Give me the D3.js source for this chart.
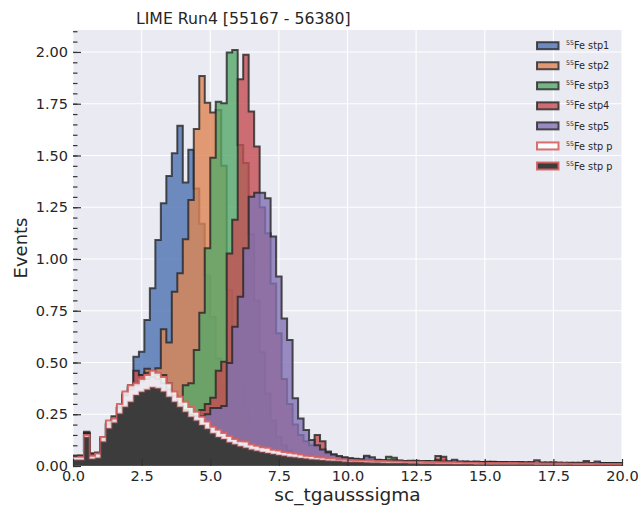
<!DOCTYPE html>
<html><head><meta charset="utf-8">
<script src="https://cdn.jsdelivr.net/npm/d3@7"></script>
<style>body{margin:0;background:#fff}svg{display:block}</style>
</head><body>
<svg id="c" width="644" height="506"></svg>
<script>
// ---------- data ----------
const title = "LIME Run4 [55167 - 56380]";
const xLabel = "sc_tgausssigma";
const yLabel = "Events";
const xTicks = [0, 2.5, 5, 7.5, 10, 12.5, 15, 17.5, 20];
const yTicks = [0, 0.25, 0.5, 0.75, 1.0, 1.25, 1.5, 1.75, 2.0];
const binEdges = d3.range(101).map(i => +(i * 0.2).toFixed(1)); // 0 .. 20, 100 bins
const labels = ["stp1", "stp2", "stp3", "stp4", "stp5", "stp p", "stp p"];

const stp1 = [
 0.05,0.05,0.165,0.06,0.065,0.14,0.21,0.24,0.29,0.35,
 0.39,0.528,0.552,0.705,0.858,1.092,1.269,1.401,1.511,1.643,
 1.369,1.527,1.34,1.17,0.92,0.72,0.52,0.38,0.27,0.2,
 0.15,0.12,0.1,0.085,0.075,0.07,0.062,0.058,0.055,0.05,
 0.046,0.044,0.04,0.038,0.036,0.034,0.032,0.031,0.03,0.029,
 0.028,0.027,0.03,0.045,0.032,0.026,0.025,0.027,0.024,0.023,
 0.024,0.022,0.025,0.021,0.022,0.02,0.024,0.021,0.02,0.022,
 0.019,0.02,0.018,0.021,0.019,0.018,0.02,0.017,0.018,0.016,
 0.018,0.017,0.016,0.018,0.015,0.016,0.017,0.015,0.016,0.014,
 0.015,0.016,0.014,0.015,0.013,0.015,0.014,0.013,0.014,0.012];
const stp2 = [
 0.05,0.048,0.16,0.055,0.06,0.13,0.2,0.22,0.28,0.34,
 0.38,0.40,0.44,0.47,0.44,0.472,0.66,0.596,0.842,0.931,
 1.095,1.285,1.628,1.884,1.755,1.707,1.72,1.45,0.85,0.6,
 0.4,0.28,0.2,0.15,0.12,0.1,0.085,0.075,0.065,0.058,
 0.052,0.048,0.044,0.04,0.038,0.036,0.034,0.032,0.031,0.03,
 0.029,0.028,0.027,0.03,0.026,0.027,0.025,0.024,0.026,0.023,
 0.024,0.023,0.022,0.024,0.021,0.022,0.048,0.028,0.022,0.02,
 0.021,0.02,0.019,0.02,0.018,0.019,0.018,0.017,0.019,0.016,
 0.017,0.018,0.016,0.017,0.015,0.016,0.015,0.017,0.014,0.015,
 0.016,0.014,0.015,0.013,0.015,0.014,0.013,0.014,0.012,0.013];
const stp3 = [
 0.048,0.05,0.16,0.055,0.062,0.135,0.2,0.225,0.28,0.34,
 0.38,0.4,0.42,0.44,0.45,0.44,0.44,0.40,0.33,0.30,
 0.39,0.40,0.56,0.74,1.052,1.489,1.76,1.752,1.997,2.01,
 1.551,1.464,1.12,0.8,0.55,0.35,0.22,0.14,0.1,0.075,
 0.06,0.05,0.045,0.04,0.037,0.034,0.032,0.03,0.029,0.028,
 0.027,0.026,0.025,0.028,0.026,0.024,0.025,0.045,0.04,0.026,
 0.023,0.024,0.022,0.021,0.023,0.02,0.022,0.021,0.02,0.019,
 0.02,0.018,0.019,0.017,0.019,0.018,0.017,0.018,0.016,0.017,
 0.016,0.017,0.015,0.016,0.017,0.015,0.014,0.016,0.015,0.014,
 0.015,0.014,0.016,0.013,0.014,0.013,0.015,0.012,0.013,0.012];
const stp4 = [
 0.045,0.05,0.155,0.06,0.06,0.13,0.2,0.22,0.28,0.34,
 0.38,0.46,0.44,0.45,0.43,0.42,0.38,0.34,0.3,0.25,
 0.2,0.22,0.24,0.27,0.3,0.33,0.46,0.504,1.027,1.19,
 1.868,1.986,1.712,1.543,1.25,1.124,0.882,0.641,0.42,0.3,
 0.2,0.15,0.12,0.1,0.15,0.12,0.07,0.055,0.045,0.04,
 0.036,0.033,0.03,0.029,0.028,0.027,0.026,0.025,0.027,0.024,
 0.023,0.022,0.024,0.021,0.022,0.021,0.03,0.045,0.02,0.021,
 0.019,0.02,0.018,0.019,0.018,0.02,0.017,0.018,0.017,0.016,
 0.017,0.016,0.018,0.015,0.016,0.015,0.016,0.014,0.015,0.016,
 0.014,0.015,0.013,0.024,0.014,0.013,0.014,0.012,0.013,0.012];
const stp5 = [
 0.045,0.045,0.155,0.05,0.06,0.13,0.2,0.22,0.28,0.34,
 0.37,0.39,0.41,0.42,0.43,0.42,0.4,0.37,0.34,0.3,
 0.27,0.25,0.24,0.24,0.25,0.28,0.28,0.29,0.497,0.673,
 0.818,1.052,1.30,1.32,1.32,1.293,1.108,0.915,0.713,0.609,
 0.327,0.23,0.174,0.126,0.1,0.08,0.065,0.055,0.048,0.042,
 0.038,0.035,0.033,0.05,0.042,0.03,0.028,0.027,0.026,0.025,
 0.024,0.025,0.023,0.022,0.023,0.021,0.022,0.02,0.021,0.03,
 0.02,0.019,0.02,0.018,0.019,0.017,0.018,0.017,0.016,0.018,
 0.016,0.017,0.015,0.016,0.028,0.016,0.015,0.014,0.016,0.015,
 0.014,0.015,0.014,0.013,0.014,0.022,0.013,0.014,0.012,0.013];
const stpPWhite = [
 0.045,0.045,0.15,0.05,0.06,0.14,0.22,0.23,0.3,0.36,
 0.39,0.4,0.42,0.44,0.46,0.45,0.43,0.4,0.36,0.335,
 0.31,0.285,0.262,0.238,0.215,0.19,0.175,0.16,0.145,0.13,
 0.12,0.118,0.104,0.098,0.09,0.088,0.078,0.075,0.068,0.064,
 0.06,0.055,0.05,0.048,0.043,0.041,0.037,0.036,0.032,0.031,
 0.029,0.028,0.027,0.026,0.025,0.024,0.024,0.023,0.022,0.022,
 0.021,0.021,0.02,0.02,0.019,0.019,0.018,0.018,0.018,0.017,
 0.017,0.016,0.016,0.016,0.015,0.015,0.015,0.014,0.014,0.014,
 0.014,0.013,0.013,0.013,0.013,0.012,0.012,0.012,0.012,0.012,
 0.011,0.011,0.011,0.011,0.011,0.01,0.01,0.01,0.01,0.01];
const stpPDark = [
 0.03,0.03,0.14,0.035,0.04,0.118,0.182,0.21,0.254,0.286,
 0.31,0.343,0.359,0.37,0.38,0.376,0.36,0.335,0.31,0.286,
 0.262,0.238,0.22,0.198,0.18,0.158,0.14,0.13,0.115,0.105,
 0.095,0.088,0.08,0.074,0.068,0.063,0.058,0.053,0.049,0.045,
 0.042,0.039,0.036,0.033,0.031,0.029,0.027,0.025,0.024,0.022,
 0.021,0.02,0.019,0.018,0.017,0.017,0.016,0.015,0.015,0.014,
 0.014,0.013,0.013,0.012,0.012,0.012,0.011,0.011,0.011,0.01,
 0.01,0.01,0.01,0.009,0.009,0.009,0.009,0.009,0.008,0.008,
 0.008,0.008,0.008,0.008,0.007,0.007,0.007,0.007,0.007,0.007,
 0.007,0.006,0.006,0.006,0.006,0.006,0.006,0.006,0.006,0.006];

// ---------- styles ----------
const series = [
  {vals: stp1, fill: "#4C72B0", fo: 0.8, stroke: "#262626", so: 0.8},
  {vals: stp2, fill: "#DD8452", fo: 0.8, stroke: "#262626", so: 0.8},
  {vals: stp3, fill: "#55A868", fo: 0.8, stroke: "#262626", so: 0.8},
  {vals: stp4, fill: "#C44E52", fo: 0.8, stroke: "#262626", so: 0.8},
  {vals: stp5, fill: "#8172B3", fo: 0.8, stroke: "#262626", so: 0.8},
  {vals: stpPWhite, fill: "#ffffff", fo: 0.85, stroke: "#d65f5f", so: 0.9},
  {vals: stpPDark, fill: "#3c3c3c", fo: 1, stroke: "#d65f5f", so: 0.35}
];

const svg = d3.select("#c");
const L = 73, R = 622, T = 30, B = 466;
const x = d3.scaleLinear().domain([0, 20]).range([L, R]);
const y = d3.scaleLinear().domain([0, 2.106]).range([B, T]);

svg.append("rect").attr("x", L).attr("y", T).attr("width", R - L).attr("height", B - T).attr("fill", "#EAEAF2");

// grid
const grid = svg.append("g").attr("stroke", "#fff").attr("stroke-width", 1.1);
xTicks.forEach(t => grid.append("line").attr("x1", x(t)).attr("x2", x(t)).attr("y1", T).attr("y2", B));
yTicks.forEach(t => grid.append("line").attr("x1", L).attr("x2", R).attr("y1", y(t)).attr("y2", y(t)));

svg.append("clipPath").attr("id", "clip").append("rect")
  .attr("x", L).attr("y", T).attr("width", R - L).attr("height", B - T);

const line = d3.line().x(d => x(d[0])).y(d => y(d[1]));
function stepPoints(vals) {
  const pts = [[binEdges[0], 0]];
  vals.forEach((v, i) => { pts.push([binEdges[i], v]); pts.push([binEdges[i + 1], v]); });
  pts.push([binEdges[binEdges.length - 1], 0]);
  return pts;
}
const plot = svg.append("g").attr("clip-path", "url(#clip)");
series.forEach(s => {
  plot.append("path").attr("d", line(stepPoints(s.vals)) + "Z")
    .attr("fill", s.fill).attr("fill-opacity", s.fo)
    .attr("stroke", s.stroke).attr("stroke-opacity", s.so)
    .attr("stroke-width", 2).attr("stroke-linejoin", "miter");
});

// axes (ticks inside)
const font = "DejaVu Sans, sans-serif";
const yAxis = d3.axisLeft(y).tickValues(yTicks).tickFormat(d3.format(".2f")).tickSize(-8).tickPadding(5);
const yMinor = d3.axisLeft(y).tickValues(d3.range(0, 2.11, 0.05)).tickSize(-4.5).tickFormat("");
const xAxis = d3.axisBottom(x).tickValues(xTicks).tickFormat(d3.format(".1f")).tickSize(-7).tickPadding(5);

const gyMinor = svg.append("g").attr("transform", `translate(${L},0)`).call(yMinor);
const gy = svg.append("g").attr("transform", `translate(${L},0)`).call(yAxis);
const gx = svg.append("g").attr("transform", `translate(0,${B})`).call(xAxis);
[gy, gx, gyMinor].forEach(g => {
  g.select(".domain").remove();
  g.selectAll(".tick line").attr("stroke", "#333").attr("stroke-width", 1.2);
  g.selectAll("text").attr("fill", "#262626").style("font-family", font).style("font-size", "14.5px");
});

// labels
svg.append("text").attr("x", 136).attr("y", 24).text(title)
  .style("font-family", font).style("font-size", "15.7px").attr("fill", "#262626");
svg.append("text").attr("x", (L + R) / 2).attr("y", 501).attr("text-anchor", "middle").text(xLabel)
  .style("font-family", font).style("font-size", "18.5px").attr("fill", "#262626");
svg.append("text").attr("transform", `translate(27,${(T + B) / 2}) rotate(-90)`).attr("text-anchor", "middle").text(yLabel)
  .style("font-family", font).style("font-size", "18px").attr("fill", "#262626");

// legend
const leg = svg.append("g");
series.forEach((s, i) => {
  const cy = 45.7 + i * 20.05;
  leg.append("rect").attr("x", 537).attr("y", cy - 3.5).attr("width", 21.5).attr("height", 7)
    .attr("fill", s.fill).attr("fill-opacity", s.fo)
    .attr("stroke", s.stroke).attr("stroke-opacity", i === 6 ? 0.9 : s.so).attr("stroke-width", 2);
  const t = leg.append("text").attr("x", 566).attr("y", cy + 3.6)
    .style("font-family", font).attr("fill", "#262626");
  t.append("tspan").text("55").style("font-size", "6.3px").attr("dy", -4);
  t.append("tspan").text("Fe " + labels[i]).style("font-size", "9.7px").attr("dy", 4);
});
</script>
</body></html>
